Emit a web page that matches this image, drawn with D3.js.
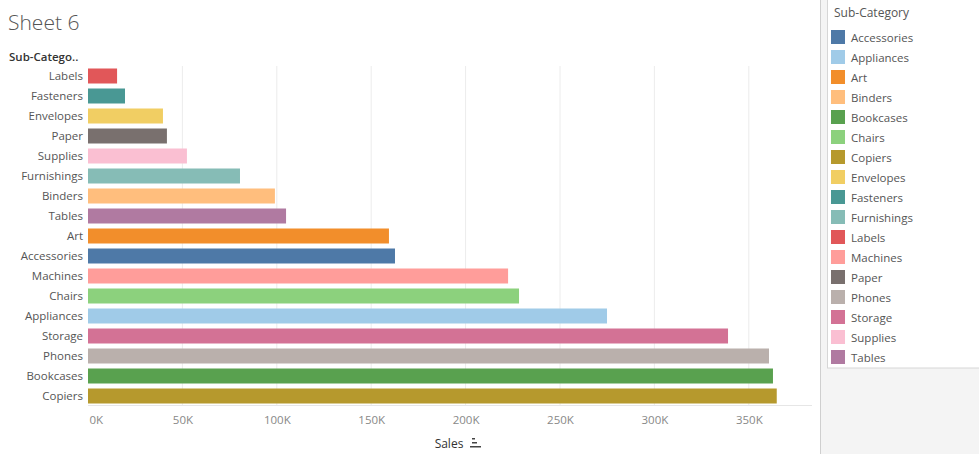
<!DOCTYPE html>
<html>
<head>
<meta charset="utf-8">
<script src="https://cdn.jsdelivr.net/npm/d3@7/dist/d3.min.js"></script>
<style>
  html, body { margin: 0; padding: 0; background: #fff; }
  svg { display: block; font-family: "Open Sans", "Noto Sans", sans-serif; }
</style>
</head>
<body>
<svg id="chart" width="979" height="454"></svg>
<script>
// Bar order as displayed (ascending sales)
const categories = ["Labels","Fasteners","Envelopes","Paper","Supplies","Furnishings","Binders","Tables","Art","Accessories","Machines","Chairs","Appliances","Storage","Phones","Bookcases","Copiers"];
const sales = [15400, 19600, 39700, 41800, 52400, 80500, 99000, 104900, 159400, 162600, 222500, 228300, 274900, 339000, 360700, 362800, 364800];
// Legend (alphabetical)
const legendCategories = ["Accessories","Appliances","Art","Binders","Bookcases","Chairs","Copiers","Envelopes","Fasteners","Furnishings","Labels","Machines","Paper","Phones","Storage","Supplies","Tables"];
const legendColors = ["#4e79a7","#a0cbe8","#f28e2b","#ffbe7d","#59a14f","#8cd17d","#b6992d","#f1ce63","#499894","#86bcb6","#e15759","#ff9d9a","#79706e","#bab0ac","#d37295","#fabfd2","#b07aa1"];
const tickValues = [0, 50000, 100000, 150000, 200000, 250000, 300000, 350000];
const tickLabels = ["0K","50K","100K","150K","200K","250K","300K","350K"];

const svg = d3.select("#chart");
const color = d3.scaleOrdinal().domain(legendCategories).range(legendColors);

const plot = { left: 88, right: 812, top: 66, bottom: 406 };
const pxPer50K = 94.4;
const x = d3.scaleLinear().domain([0, 50000]).range([plot.left, plot.left + pxPer50K]);
const y = d3.scaleBand().domain(categories).range([plot.top, plot.bottom]).paddingInner(0.25).paddingOuter(0.125);

// Title
svg.append("text").attr("x", 8).attr("y", 30).attr("font-size", 21).attr("font-weight", 300)
  .attr("fill", "#555").text("Sheet 6");

// Header
svg.append("text").attr("x", 9).attr("y", 61).attr("font-size", 11.5).attr("font-weight", 600)
  .attr("fill", "#333").text("Sub-Catego..");

// Gridlines
svg.append("g").selectAll("line").data(tickValues.slice(1)).join("line")
  .attr("x1", d => x(d)).attr("x2", d => x(d))
  .attr("y1", plot.top).attr("y2", plot.bottom)
  .attr("stroke", "#ececec").attr("stroke-width", 1);

// Bottom axis line
svg.append("line").attr("x1", plot.left).attr("x2", plot.right)
  .attr("y1", plot.bottom - 0.5).attr("y2", plot.bottom - 0.5)
  .attr("stroke", "#e6e6e6");

// Bars
svg.append("g").selectAll("rect").data(categories).join("rect")
  .attr("x", plot.left)
  .attr("y", d => y(d))
  .attr("width", (d, i) => x(sales[i]) - plot.left)
  .attr("height", y.bandwidth())
  .attr("fill", d => color(d));

// Category labels via axis
const yAxis = svg.append("g").attr("transform", `translate(${plot.left - 5},0)`)
  .call(d3.axisLeft(y).tickSize(0).tickPadding(0));
yAxis.select(".domain").remove();
yAxis.selectAll("text").attr("font-size", 11.5).attr("fill", "#555")
  .attr("font-family", "'Open Sans', 'Noto Sans', sans-serif");

// X axis ticks
const xAxis = svg.append("g").attr("transform", `translate(0,${plot.bottom})`)
  .call(d3.axisBottom(x).tickValues(tickValues).tickFormat((d, i) => tickLabels[i]).tickSize(0).tickPadding(10));
xAxis.select(".domain").remove();
xAxis.selectAll("text").attr("font-size", 11.5).attr("fill", "#888")
  .attr("font-family", "'Open Sans', 'Noto Sans', sans-serif")
  .attr("text-anchor", (d, i) => i === 0 ? "start" : "middle")
  .attr("dx", (d, i) => i === 0 ? 1 : 0);

// Axis title
svg.append("text").attr("x", 449).attr("y", 448).attr("text-anchor", "middle")
  .attr("font-size", 12).attr("fill", "#333").text("Sales");
const icon = svg.append("g").attr("fill", "#444");
icon.append("rect").attr("x", 472).attr("y", 438).attr("width", 3).attr("height", 1.5);
icon.append("rect").attr("x", 472).attr("y", 442).attr("width", 5).attr("height", 1.5);
icon.append("rect").attr("x", 470).attr("y", 446).attr("width", 11).attr("height", 1.5);

// Right panel
svg.append("rect").attr("x", 820).attr("y", 0).attr("width", 159).attr("height", 454).attr("fill", "#f4f4f4");
svg.append("line").attr("x1", 820.5).attr("x2", 820.5).attr("y1", 0).attr("y2", 454).attr("stroke", "#cfcfcf");
svg.append("rect").attr("x", 827.5).attr("y", -1).attr("width", 160).attr("height", 369)
  .attr("fill", "#fff").attr("stroke", "#d6d6d6");
svg.append("text").attr("x", 834).attr("y", 17).attr("font-size", 12).attr("fill", "#555").text("Sub-Category");

const legend = svg.append("g").selectAll("g").data(legendCategories).join("g")
  .attr("transform", (d, i) => `translate(831,${30 + i * 20})`);
legend.append("rect").attr("width", 14).attr("height", 14).attr("fill", d => color(d));
legend.append("text").attr("x", 20).attr("y", 11.5).attr("font-size", 11.5).attr("fill", "#555").text(d => d);
</script>
</body>
</html>
